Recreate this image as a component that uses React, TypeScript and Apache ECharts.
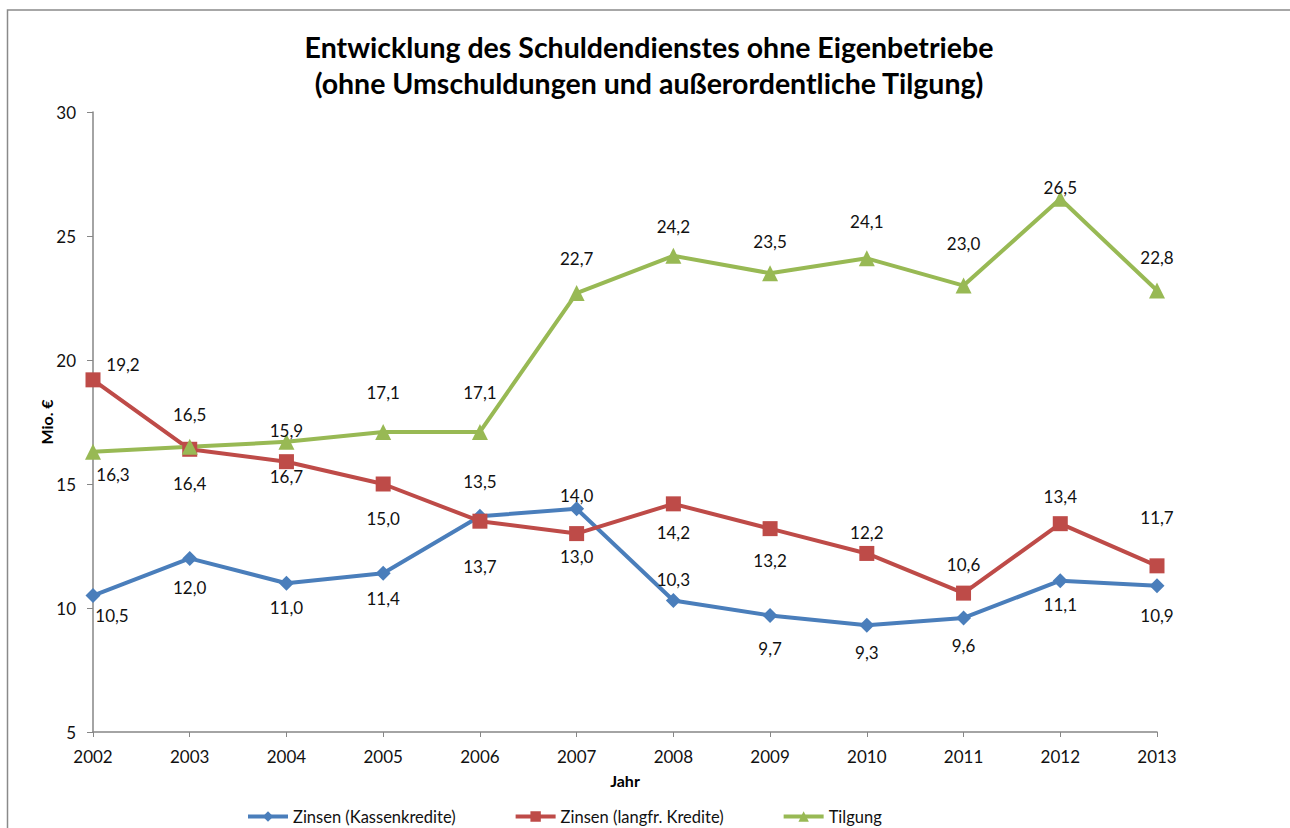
import React, { useEffect, useRef } from "react";
import * as echarts from "echarts";

const years = ["2002", "2003", "2004", "2005", "2006", "2007", "2008", "2009", "2010", "2011", "2012", "2013"];
const kassenkredite = [10.5, 12.0, 11.0, 11.4, 13.7, 14.0, 10.3, 9.7, 9.3, 9.6, 11.1, 10.9];
const langfrKredite = [19.2, 16.4, 15.9, 15.0, 13.5, 13.0, 14.2, 13.2, 12.2, 10.6, 13.4, 11.7];
const tilgung = [16.3, 16.5, 16.7, 17.1, 17.1, 22.7, 24.2, 23.5, 24.1, 23.0, 26.5, 22.8];
const seriesNames = ["Zinsen (Kassenkredite)", "Zinsen (langfr. Kredite)", "Tilgung"];
const yTicks = { min: 5, max: 30, interval: 5 };

// label placement (layout only), dx/dy in pixels from the point
const blueLabelOffsets = [[19, 20], [0, 29], [0, 24], [0, 25], [0, 50], [0, -13], [0, -21], [0, 33], [0, 27], [0, 28], [0, 24], [0, 30]];
const redLabelOffsets = [[30, -15], [0, 34], [0, -31], [0, 34], [0, -40], [0, 23], [0, 29], [0, 32], [0, -21], [0, -29], [0, -27], [0, -48]];
const greenLabelOffsets = [[20, 23], [0, -32], [0, 35], [0, -39], [0, -39], [0, -35], [0, -29], [0, -32], [0, -37], [0, -42], [0, -11], [0, -33]];

const FONT = "Lato, 'Open Sans', sans-serif";
const fmt = (v: number) => v.toFixed(1).replace(".", ",");

function buildData(values: number[], offsets: number[][]) {
  return values.map((v, i) => ({
    value: v,
    label: { offset: offsets[i] },
  }));
}

export default function App() {
  const ref = useRef<HTMLDivElement>(null);
  useEffect(() => {
    document.body.style.margin = "0";
    const chart = echarts.init(ref.current!, null, { renderer: "svg" });
    const labelBase = {
      show: true,
      position: "inside" as const,
      color: "#111",
      fontFamily: FONT,
      fontSize: 17,
      formatter: (p: any) => fmt(p.value),
    };
    const mk = (name: string, values: number[], offsets: number[][], color: string, symbol: string, size: number) => ({
      name,
      type: "line",
      data: buildData(values, offsets),
      symbol,
      symbolSize: size,
      showAllSymbol: true,
      lineStyle: { color, width: 4 },
      itemStyle: { color },
      label: labelBase,
      emphasis: { disabled: true },
    });
    chart.setOption({
      animation: false,
      backgroundColor: "#fff",
      title: {
        text: "Entwicklung des Schuldendienstes ohne Eigenbetriebe\n(ohne Umschuldungen und außerordentliche Tilgung)",
        left: 649,
        top: 29,
        padding: 0,
        textAlign: "center",
        textStyle: {
          fontFamily: FONT,
          fontWeight: "bold",
          fontSize: 28.5,
          lineHeight: 36,
          color: "#000",
        },
      },
      graphic: [
        {
          type: "rect",
          shape: { x: 7.5, y: 10, width: 1400, height: 900 },
          style: { fill: "none", stroke: "#8a8a8a", lineWidth: 1.5 },
          silent: true,
        },
      ],
      legend: {
        left: 246,
        top: 808,
        padding: 0,
        itemWidth: 40,
        itemHeight: 13,
        itemGap: 58,
        lineStyle: { width: 4 },
        textStyle: { fontFamily: FONT, fontSize: 16.5, color: "#111" },
        data: seriesNames,
      },
      grid: { left: 93, right: 133, top: 112, bottom: 96, containLabel: false },
      xAxis: {
        type: "category",
        data: years,
        boundaryGap: false,
        name: "Jahr",
        nameLocation: "middle",
        nameGap: 40,
        nameMoveOverlap: false,
        nameTextStyle: { fontFamily: FONT, fontWeight: "bold", fontSize: 16, color: "#000" },
        axisLine: { lineStyle: { color: "#868686", width: 1.5 } },
        axisTick: { show: true, length: 5, alignWithLabel: true, lineStyle: { color: "#868686" } },
        axisLabel: { fontFamily: FONT, fontSize: 17, color: "#111", margin: 16 },
        splitLine: { show: false },
      },
      yAxis: {
        type: "value",
        min: yTicks.min,
        max: yTicks.max,
        interval: yTicks.interval,
        name: "Mio. €",
        nameLocation: "middle",
        nameGap: 39,
        nameMoveOverlap: false,
        nameRotate: 90,
        nameTextStyle: { fontFamily: FONT, fontWeight: "bold", fontSize: 16, color: "#000" },
        axisLine: { show: true, lineStyle: { color: "#868686", width: 1.5 } },
        axisTick: { show: true, length: 6, lineStyle: { color: "#868686" } },
        axisLabel: { fontFamily: FONT, fontSize: 17, color: "#111", margin: 17 },
        splitLine: { show: false },
      },
      series: [
        mk(seriesNames[0], kassenkredite, blueLabelOffsets, "#4A7EBB", "diamond", 15),
        mk(seriesNames[1], langfrKredite, redLabelOffsets, "#BE4B48", "rect", 15),
        mk(seriesNames[2], tilgung, greenLabelOffsets, "#98B954", "triangle", 16),
      ],
    });
    return () => chart.dispose();
  }, []);
  return <div ref={ref} style={{ width: 1290, height: 828 }} />;
}
